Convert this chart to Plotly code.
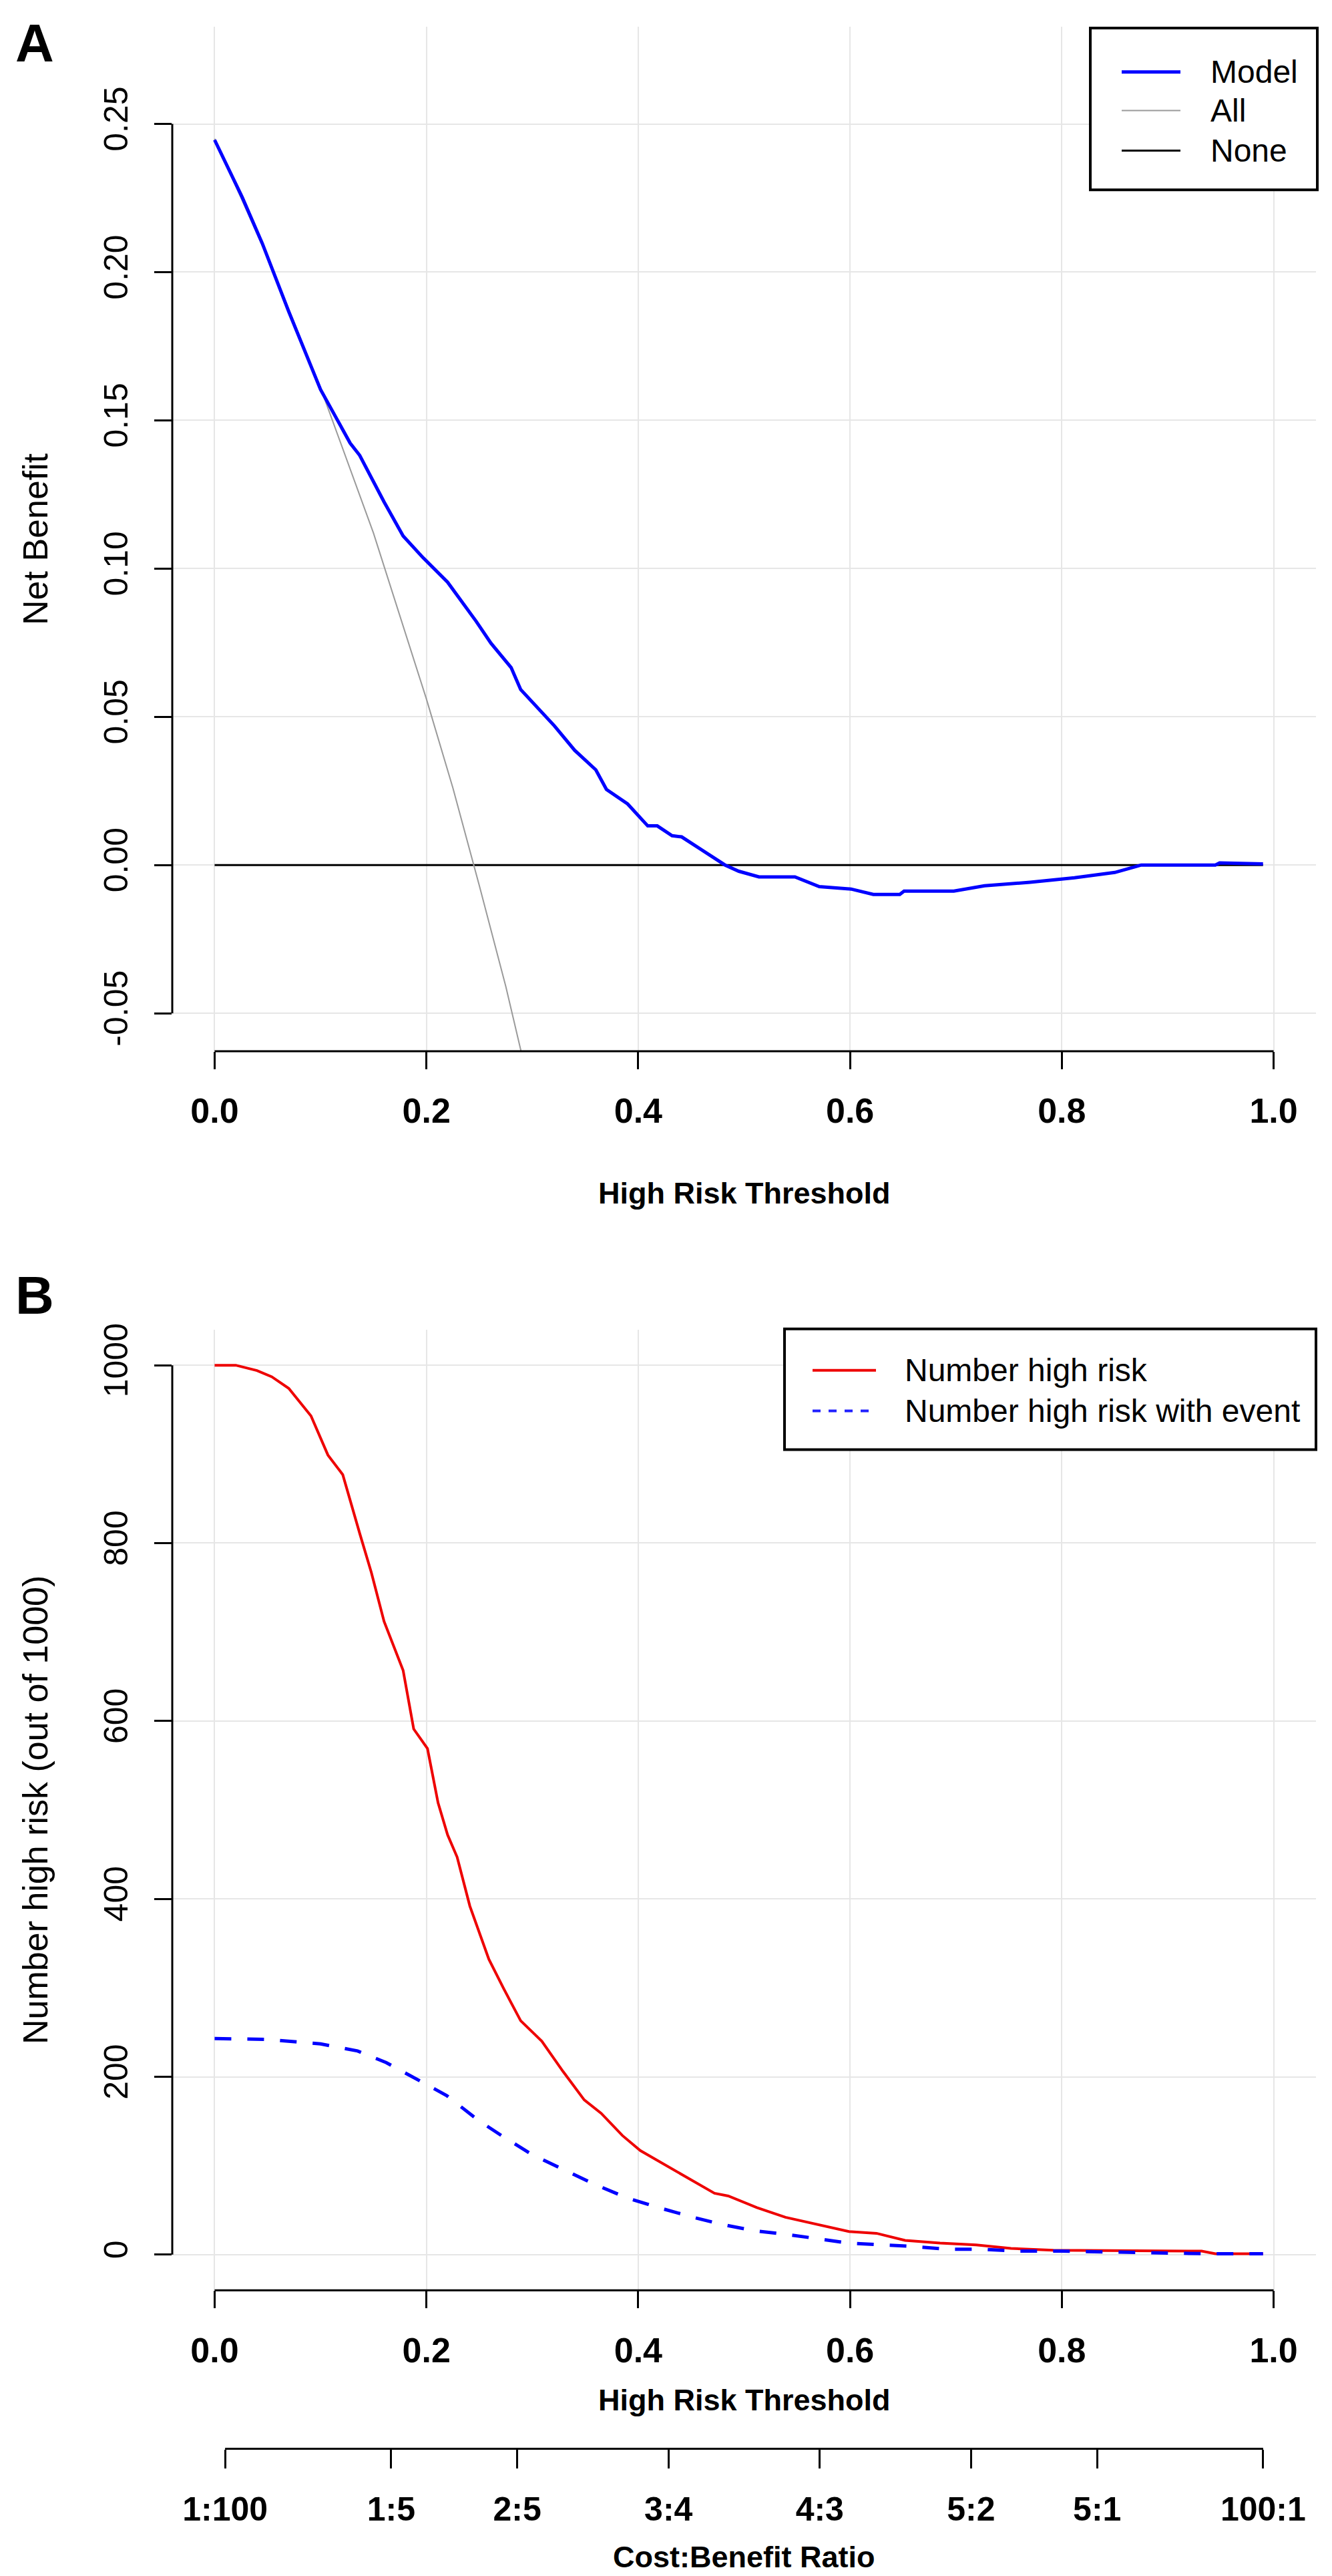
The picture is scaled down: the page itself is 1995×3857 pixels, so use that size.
import plotly.graph_objects as go

# ---- panel A: net benefit (decision curve) ----
threshold_model = [0.0, 0.026, 0.045, 0.070, 0.100, 0.128, 0.137, 0.160, 0.178, 0.197,
                   0.220, 0.247, 0.261, 0.280, 0.289, 0.321, 0.340, 0.360, 0.370, 0.390,
                   0.409, 0.418, 0.432, 0.441, 0.482, 0.495, 0.514, 0.548, 0.571, 0.601,
                   0.622, 0.647, 0.651, 0.698, 0.727, 0.770, 0.812, 0.850, 0.869, 0.875,
                   0.945, 0.949, 0.990]
net_benefit_model = [0.2446, 0.2253, 0.2097, 0.1867, 0.1604, 0.1423, 0.1382, 0.1225, 0.1110, 0.1036,
                     0.0954, 0.0822, 0.0748, 0.0666, 0.0592, 0.0469, 0.0387, 0.0321, 0.0255, 0.0206,
                     0.0132, 0.0132, 0.0099, 0.0095, 0.0, -0.0021, -0.0040, -0.0040, -0.0073, -0.0081,
                     -0.0099, -0.0099, -0.0088, -0.0088, -0.0070, -0.0058, -0.0043, -0.0025, -0.0006, 0.0,
                     0.0, 0.0007, 0.0004]

threshold_all = [0.0, 0.05, 0.10, 0.15, 0.20, 0.225, 0.25, 0.275, 0.30]
net_benefit_all = [0.245, 0.205, 0.161, 0.112, 0.056, 0.026, -0.007, -0.041, -0.079]

threshold_none = [0.0, 0.99]
net_benefit_none = [0.0, 0.0]

# ---- panel B: clinical impact (out of 1000) ----
threshold_high_risk = [0.0, 0.02, 0.04, 0.054, 0.07, 0.091, 0.107, 0.121, 0.137, 0.148,
                       0.16, 0.178, 0.188, 0.201, 0.211, 0.22, 0.229, 0.241, 0.259, 0.273,
                       0.289, 0.309, 0.329, 0.349, 0.365, 0.385, 0.402, 0.445, 0.472, 0.485,
                       0.512, 0.539, 0.572, 0.599, 0.625, 0.652, 0.685, 0.719, 0.752, 0.792,
                       0.932, 0.945, 0.99]
number_high_risk = [1000, 1000, 994, 987, 974, 943, 899, 877, 811, 767,
                    712, 657, 591, 569, 508, 472, 447, 392, 332, 299,
                    263, 240, 206, 174, 159, 134, 117, 87, 69, 66,
                    53, 42, 33, 26, 24, 16, 13, 11, 7, 5,
                    4, 1, 1]

threshold_with_event = [0.0, 0.05, 0.1, 0.135, 0.162, 0.192, 0.219, 0.249, 0.272, 0.299,
                        0.329, 0.359, 0.389, 0.419, 0.452, 0.479, 0.509, 0.539, 0.569, 0.599,
                        0.632, 0.662, 0.692, 0.725, 0.759, 0.799, 0.94, 0.99]
number_with_event = [243, 242, 237, 229, 216, 197, 179, 151, 133, 113,
                     96, 79, 64, 53, 42, 34, 27, 23, 18, 13,
                     11, 9, 6, 6, 4, 4, 1, 1]

# ---- ticks ----
threshold_ticks = [0.0, 0.2, 0.4, 0.6, 0.8, 1.0]
threshold_tick_labels = ["0.0", "0.2", "0.4", "0.6", "0.8", "1.0"]
net_benefit_ticks = [-0.05, 0.0, 0.05, 0.10, 0.15, 0.20, 0.25]
net_benefit_tick_labels = ["-0.05", "0.00", "0.05", "0.10", "0.15", "0.20", "0.25"]
count_ticks = [0, 200, 400, 600, 800, 1000]
count_tick_labels = ["0", "200", "400", "600", "800", "1000"]
cost_part = [1, 1, 2, 3, 4, 5, 5, 100]
benefit_part = [100, 5, 5, 4, 3, 2, 1, 1]

W, H = 1995, 3857
FONT = "Liberation Sans, Arial, sans-serif"


def px(x):
    return x / W


def py(y):
    return 1 - y / H


# cost:benefit a:b corresponds to threshold a/(a+b)
cost_benefit_pos = [c / (c + b) for c, b in zip(cost_part, benefit_part)]
cost_benefit_labels = [f"{c}:{b}" for c, b in zip(cost_part, benefit_part)]

MODEL_STYLE = dict(color="#0000ff", width=5)
ALL_STYLE = dict(color="#9a9a9a", width=2)
NONE_STYLE = dict(color="black", width=3)
RISK_STYLE = dict(color="#ee0000", width=4)
EVENT_STYLE = dict(color="#0000ff", width=5, dash="25px,24px")

fig = go.Figure()

fig.add_trace(go.Scatter(x=threshold_none, y=net_benefit_none, mode="lines", name="None",
                         line=NONE_STYLE, xaxis="x", yaxis="y"))
fig.add_trace(go.Scatter(x=threshold_all, y=net_benefit_all, mode="lines", name="All",
                         line=ALL_STYLE, xaxis="x", yaxis="y"))
fig.add_trace(go.Scatter(x=threshold_model, y=net_benefit_model, mode="lines", name="Model",
                         line=MODEL_STYLE, xaxis="x", yaxis="y"))

fig.add_trace(go.Scatter(x=threshold_high_risk, y=number_high_risk, mode="lines",
                         name="Number high risk", line=RISK_STYLE, xaxis="x2", yaxis="y2"))
fig.add_trace(go.Scatter(x=threshold_with_event, y=number_with_event, mode="lines",
                         name="Number high risk with event", line=EVENT_STYLE,
                         xaxis="x2", yaxis="y2"))
# empty trace so that the cost:benefit axis gets drawn
fig.add_trace(go.Scatter(x=cost_benefit_pos, y=[None] * len(cost_benefit_pos), mode="lines",
                         xaxis="x3", yaxis="y2", hoverinfo="skip"))

x_domain = [px(250), px(1963)]
grid = "#e6e6e6"

x_common = dict(
    domain=x_domain, range=[-0.04, 1.04], tickmode="array",
    tickvals=threshold_ticks, ticktext=threshold_tick_labels,
    ticks="outside", ticklen=26, tickwidth=3, tickcolor="black",
    showline=False, zeroline=False, showgrid=True, gridcolor=grid, gridwidth=2,
    tickfont=dict(family=FONT, size=52, color="black", weight="bold"),
    ticklabelstandoff=18, fixedrange=True,
)
y_common = dict(
    ticks="outside", ticklen=26, tickwidth=3, tickcolor="black",
    showline=False, zeroline=False, showgrid=True, gridcolor=grid, gridwidth=2,
    tickfont=dict(family=FONT, size=50, color="black"), tickangle=-90,
    ticklabelstandoff=20, fixedrange=True,
)

fig.update_layout(
    width=W, height=H, autosize=False,
    margin=dict(l=0, r=0, t=0, b=0),
    paper_bgcolor="white", plot_bgcolor="white",
    showlegend=False,
    xaxis=dict(x_common, anchor="y"),
    yaxis=dict(y_common, domain=[py(1560), py(22)], range=[-0.0628, 0.2828], anchor="x",
               tickmode="array", tickvals=net_benefit_ticks, ticktext=net_benefit_tick_labels),
    xaxis2=dict(x_common, anchor="y2"),
    yaxis2=dict(y_common, domain=[py(3420), py(1978)], range=[-40, 1040], anchor="x2",
                tickmode="array", tickvals=count_ticks, ticktext=count_tick_labels),
    xaxis3=dict(domain=x_domain, range=[-0.04, 1.04], overlaying="x2", anchor="free",
                position=py(3658), side="bottom", tickmode="array",
                tickvals=cost_benefit_pos, ticktext=cost_benefit_labels,
                ticks="outside", ticklen=28, tickwidth=3, tickcolor="black",
                showline=False, showgrid=False, zeroline=False,
                tickfont=dict(family=FONT, size=50, color="black", weight="bold"),
                ticklabelstandoff=18, fixedrange=True),
)

# R-style axis lines that span only the outermost ticks
axis_line = dict(color="black", width=3)
fig.add_shape(type="line", xref="x", yref="y domain", x0=threshold_ticks[0], x1=threshold_ticks[-1],
              y0=0, y1=0, line=axis_line)
fig.add_shape(type="line", xref="x domain", yref="y", x0=0, x1=0,
              y0=net_benefit_ticks[0], y1=net_benefit_ticks[-1], line=axis_line)
fig.add_shape(type="line", xref="x2", yref="y2 domain", x0=threshold_ticks[0], x1=threshold_ticks[-1],
              y0=0, y1=0, line=axis_line)
fig.add_shape(type="line", xref="x2 domain", yref="y2", x0=0, x1=0,
              y0=count_ticks[0], y1=count_ticks[-1], line=axis_line)
fig.add_shape(type="line", xref="x2", yref="paper", x0=cost_benefit_pos[0], x1=cost_benefit_pos[-1],
              y0=py(3658), y1=py(3658), line=axis_line)

legend_font = dict(family=FONT, size=48, color="black")


def draw_legend(box, rows, sample_x, text_x):
    """R-style boxed legend: box=(left, top, right, bottom) in px, rows=[(y, label, line)]"""
    left, top, right, bottom = box
    fig.add_shape(type="rect", xref="paper", yref="paper",
                  x0=px(left), x1=px(right), y0=py(bottom), y1=py(top),
                  line=dict(color="black", width=4), fillcolor="white", layer="above")
    for y, label, line in rows:
        fig.add_shape(type="line", xref="paper", yref="paper",
                      x0=px(sample_x[0]), x1=px(sample_x[1]), y0=py(y), y1=py(y), line=line)
        fig.add_annotation(text=label, xref="paper", yref="paper", x=px(text_x), y=py(y),
                           xanchor="left", yanchor="middle", showarrow=False, font=legend_font)


draw_legend((1625, 24, 1965, 267),
            [(90, "Model", MODEL_STYLE), (148, "All", ALL_STYLE), (208, "None", NONE_STYLE)],
            (1672, 1760), 1803)
draw_legend((1167, 1977, 1963, 2158),
            [(2039, "Number high risk", RISK_STYLE),
             (2100, "Number high risk with event", dict(color="#2020ff", width=4, dash="12px,12px"))],
            (1209, 1304), 1345)

# panel letters and axis titles
title_font = dict(family=FONT, size=45, color="black", weight="bold")
label_font = dict(family=FONT, size=52, color="black")
x_mid = (x_domain[0] + x_domain[1]) / 2
annotations = [
    dict(text="A", x=px(13), y=py(47), xanchor="left", yanchor="middle",
         font=dict(family=FONT, size=80, color="black", weight="bold")),
    dict(text="B", x=px(13), y=py(1926), xanchor="left", yanchor="middle",
         font=dict(family=FONT, size=80, color="black", weight="bold")),
    dict(text="Net Benefit", x=px(45), y=(py(1560) + py(22)) / 2, textangle=-90,
         xanchor="center", yanchor="middle", font=label_font),
    dict(text="Number high risk (out of 1000)", x=px(45), y=(py(3420) + py(1978)) / 2,
         textangle=-90, xanchor="center", yanchor="middle", font=label_font),
    dict(text="High Risk Threshold", x=x_mid, y=py(1773), xanchor="center", yanchor="middle",
         font=title_font),
    dict(text="High Risk Threshold", x=x_mid, y=py(3585), xanchor="center", yanchor="middle",
         font=title_font),
    dict(text="Cost:Benefit Ratio", x=x_mid, y=py(3820), xanchor="center", yanchor="middle",
         font=title_font),
]
for a in annotations:
    fig.add_annotation(xref="paper", yref="paper", showarrow=False, **a)

fig.write_html("out.html")
